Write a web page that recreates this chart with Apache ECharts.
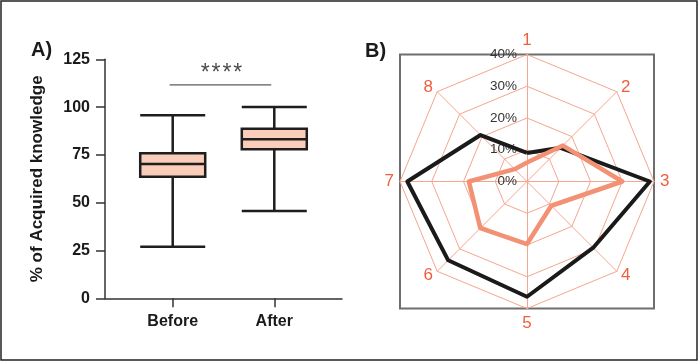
<!DOCTYPE html>
<html>
<head>
<meta charset="utf-8">
<script src="https://cdn.jsdelivr.net/npm/echarts@6/dist/echarts.min.js"></script>
<style>html,body{margin:0;padding:0;background:#fff}#c{width:700px;height:362px}</style>
</head>
<body>
<div id="c"></div>
<script>
// ---- Panel A data (box plot) ----
var groups = ['Before', 'After'];
var groupX = [1, 2];
// [min, Q1, median, Q3, max]
var beforeBox = [27, 63.6, 70.2, 75.8, 95.7];
var afterBox = [45.7, 77.9, 83.2, 88.7, 100];
var yTicks = [0, 25, 50, 75, 100, 125];
var sigLineX = [0.97, 1.97];
var sigLineY = 111.6;
var sigLabel = '*\u200A*\u200A*\u200A*';
var sigLabelY = 117.6;

// ---- Panel B data (radar) ----
var spokes = ['1', '2', '3', '4', '5', '6', '7', '8'];
var blackSeries = [9, 15, 38.7, 29.5, 36.3, 35.1, 37.7, 20.7];
var salmonSeries = [6, 16, 30, 10.8, 19.7, 20.8, 18.3, 5.5];
var radarMax = 40;

var FONT = 'Liberation Sans, Arial, Helvetica, sans-serif';
var SALMON_TXT = '#EF5F3E';
var GRID_LINE = '#F6A58E';

// ECharts radar goes counter-clockwise; reference goes clockwise from top
var order = [0, 7, 6, 5, 4, 3, 2, 1];
function reorder(a) { return order.map(function (i) { return a[i]; }); }

var indicators = order.map(function (i, k) {
  var ind = { name: spokes[i], max: radarMax, min: 0 };
  if (k === 0) {
    ind.axisLabel = {
      show: true, formatter: '{value}%', color: '#333', fontSize: 13.5,
      fontFamily: FONT, margin: 10
    };
  }
  return ind;
});

var chart = echarts.init(document.getElementById('c'), null, { renderer: 'canvas' });
chart.setOption({
  animation: false,
  backgroundColor: '#fff',
  title: [
    { text: 'A)', left: 26, top: 35, textStyle: { fontSize: 20, fontWeight: 'bold', color: '#1a1a1a', fontFamily: FONT } },
    { text: 'B)', left: 360, top: 36, textStyle: { fontSize: 20, fontWeight: 'bold', color: '#1a1a1a', fontFamily: FONT } }
  ],
  graphic: [
    { type: 'rect', silent: true, shape: { x: 1, y: 1, width: 696, height: 359 }, style: { fill: 'none', stroke: '#222', lineWidth: 1.5 } },
    { type: 'rect', silent: true, shape: { x: 400, y: 54.5, width: 254, height: 254 }, style: { fill: 'none', stroke: '#6e6e6e', lineWidth: 2 } }
  ],
  grid: { left: 105, top: 59.3, width: 237, height: 239, containLabel: false },
  xAxis: {
    type: 'value', min: 1 / 3, max: 8 / 3,
    axisLine: { show: true, lineStyle: { color: '#333', width: 1.5 } },
    axisTick: { show: true, customValues: groupX, length: 9, lineStyle: { color: '#333', width: 1.5 } },
    axisLabel: {
      customValues: groupX, margin: 15, fontSize: 16, fontWeight: 'bold', color: '#1a1a1a', fontFamily: FONT,
      formatter: function (v) { var i = groupX.indexOf(v); return i >= 0 ? groups[i] : ''; }
    },
    splitLine: { show: false }
  },
  yAxis: {
    type: 'value', min: yTicks[0], max: yTicks[yTicks.length - 1], interval: 25,
    name: '% of Acquired knowledge', nameLocation: 'middle', nameGap: 59, nameRotate: 90,
    nameTextStyle: { fontSize: 17, fontWeight: 'bold', color: '#1a1a1a', fontFamily: FONT },
    axisLine: { show: true, lineStyle: { color: '#333', width: 1.5 } },
    axisTick: { show: true, length: 9, lineStyle: { color: '#333', width: 1.5 } },
    axisLabel: { margin: 15, fontSize: 16, fontWeight: 'bold', color: '#1a1a1a', fontFamily: FONT },
    splitLine: { show: false }
  },
  radar: {
    center: [527, 181.5], radius: 127, startAngle: 90, shape: 'polygon', splitNumber: 4,
    indicator: indicators,
    axisName: { color: SALMON_TXT, fontSize: 17, fontFamily: FONT },
    nameGap: 6,
    axisLine: { lineStyle: { color: GRID_LINE, width: 1 } },
    splitLine: { lineStyle: { color: GRID_LINE, width: 1 } },
    splitArea: { show: false },
    axisTick: { show: false },
    axisLabel: { show: false }
  },
  series: [
    {
      type: 'boxplot',
      data: [[groupX[0]].concat(beforeBox), [groupX[1]].concat(afterBox)],
      boxWidth: [65, 65],
      itemStyle: { color: '#F9CDB9', borderColor: '#1e1e1e', borderWidth: 2.5 }
    },
    {
      type: 'line', symbol: 'none', silent: true,
      data: [[sigLineX[0], sigLineY], [sigLineX[1], sigLineY]],
      lineStyle: { color: '#333', width: 1 }
    },
    {
      type: 'scatter', symbolSize: 0, silent: true,
      data: [[(sigLineX[0] + sigLineX[1]) / 2 + 0.01, sigLabelY]],
      label: { show: true, position: 'inside', formatter: sigLabel, fontSize: 23, color: '#1a1a1a', fontFamily: FONT }
    },
    {
      type: 'radar', symbol: 'none', silent: true,
      data: [
        { value: reorder(blackSeries), lineStyle: { color: '#1a1a1a', width: 4 } },
        { value: reorder(salmonSeries), lineStyle: { color: '#F39175', width: 4.5 } }
      ]
    }
  ]
});
</script>
</body>
</html>
